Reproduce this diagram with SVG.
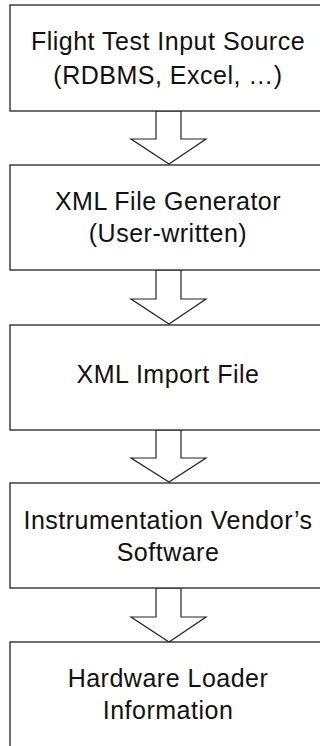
<svg xmlns="http://www.w3.org/2000/svg" width="320" height="746" viewBox="0 0 320 746">
<style>
.box{fill:#fff;stroke:#222;stroke-width:1.3}
.arr{fill:#fff;stroke:#222;stroke-width:1.2;stroke-linejoin:miter}
text{font-family:"Liberation Sans",Arial,sans-serif;font-size:25px;letter-spacing:0.5px;fill:#111;text-anchor:middle}
</style>
<rect width="320" height="746" fill="#fff"/>
<g id="connectors">
<polygon class="arr" points="156,111 156,139 131,139 169,164 206,139 181,139 181,111"/>
<polygon class="arr" points="156,270 156,299 131,299 169,324 206,299 181,299 181,270"/>
<polygon class="arr" points="156,430 156,458 131,458 169,482 206,458 181,458 181,430"/>
<polygon class="arr" points="156,588 156,617 131,617 169,642 206,617 181,617 181,588"/>
</g>
<g id="n1">
<rect class="box" x="10" y="5" width="320" height="106"/>
<text x="168" y="50">Flight Test Input Source</text>
<text x="168" y="84">(RDBMS, Excel, …)</text>
</g>
<g id="n2">
<rect class="box" x="10" y="165" width="320" height="105"/>
<text x="168" y="210">XML File Generator</text>
<text x="168" y="242">(User-written)</text>
</g>
<g id="n3">
<rect class="box" x="10" y="325" width="320" height="105"/>
<text x="168" y="383">XML Import File</text>
</g>
<g id="n4">
<rect class="box" x="10" y="483" width="320" height="105"/>
<text x="168" y="529">Instrumentation Vendor’s</text>
<text x="168" y="561">Software</text>
</g>
<g id="n5">
<rect class="box" x="10" y="642" width="320" height="120"/>
<text x="168" y="687">Hardware Loader</text>
<text x="168" y="719">Information</text>
</g>
</svg>
